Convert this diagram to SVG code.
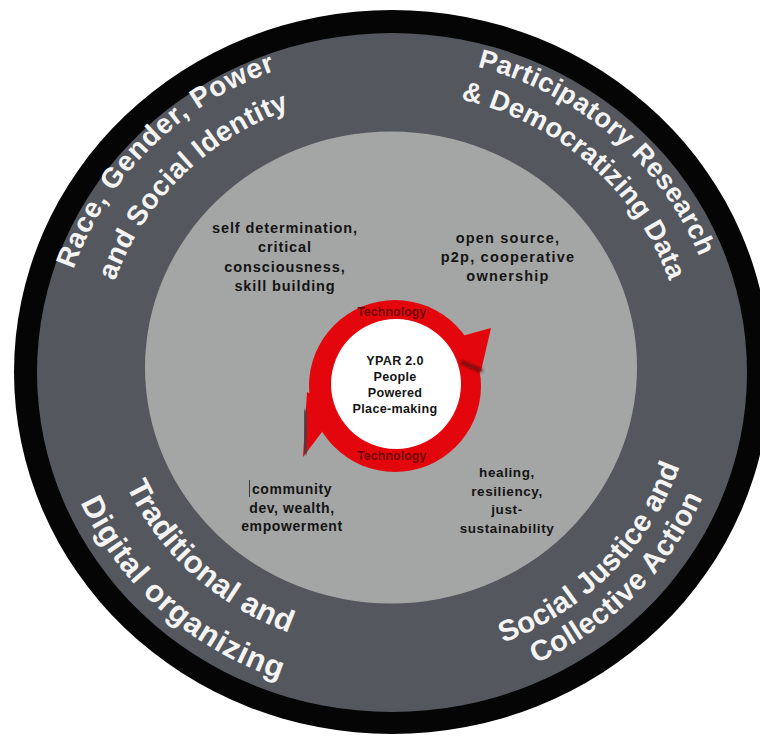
<svg xmlns="http://www.w3.org/2000/svg" width="760" height="736" viewBox="0 0 760 736">
  <defs>
    <style>
      .ring-label { font-family: "Liberation Sans", Arial, sans-serif; font-weight: bold; fill: #f4f4f4; }
      .theme { font-family: "Liberation Sans", Arial, sans-serif; font-weight: bold; fill: #141414; text-anchor: middle; }
      .core { font-family: "Liberation Sans", Arial, sans-serif; font-weight: bold; fill: #151515; text-anchor: middle; font-size: 12.6px; letter-spacing: 0.3px; }
      .tech { font-family: "Liberation Sans", Arial, sans-serif; font-weight: bold; fill: #6a0507; text-anchor: middle; font-size: 12.5px; }
    </style>
    <filter id="soft" x="-20%" y="-50%" width="140%" height="200%">
      <feGaussianBlur stdDeviation="0.7"/>
    </filter>
    <filter id="shade" x="-100%" y="-50%" width="300%" height="200%">
      <feGaussianBlur stdDeviation="1.6"/>
    </filter>
    <!-- elliptical baselines for the ring labels (centre 392,372; ry = 0.957 rx) -->
    <path id="arcUL1" d="M69.8,463.3 A336,321.6 0 0 1 470.4,59.3"/>
    <path id="arcUL2" d="M111.1,451.6 A293,280.4 0 0 1 460.4,99.3"/>
    <path id="arcUR1" d="M292.8,70.8 A330,315.8 0 0 1 714.2,440.3"/>
    <path id="arcUR2" d="M306.3,103.9 A293,280.4 0 0 1 677.5,435.1"/>
    <path id="arcLL1" d="M109.6,304.6 A291,278.5 0 0 0 472.2,639.7"/>
    <path id="arcLL2" d="M61.4,296.1 A340,325.4 0 0 0 488.6,684.0"/>
    <path id="arcLR1" d="M323.6,655.5 A304,290.9 0 0 0 682.7,286.9"/>
    <path id="arcLR2" d="M316.2,686.2 A337,322.5 0 0 0 714.3,277.7"/>
  </defs>

  <rect width="760" height="736" fill="#ffffff"/>

  <!-- concentric bands -->
  <g id="outer-ring">
    <ellipse cx="392" cy="372" rx="378" ry="362" fill="#050505"/>
    <ellipse cx="392" cy="372.5" rx="355" ry="339.5" fill="#54585e"/>
  </g>
  <g id="inner-field">
    <ellipse cx="391" cy="367.5" rx="246" ry="236" fill="#a4a6a5"/>
  </g>

  <!-- ring labels -->
  <g id="label-race">
    <text class="ring-label" font-size="28" letter-spacing="0.8"><textPath href="#arcUL1" startOffset="50%" text-anchor="middle">Race, Gender, Power</textPath></text>
    <text class="ring-label" font-size="28" letter-spacing="0.3"><textPath href="#arcUL2" startOffset="50%" text-anchor="middle">and Social Identity</textPath></text>
  </g>
  <g id="label-participatory">
    <text class="ring-label" font-size="27" letter-spacing="0.4"><textPath href="#arcUR1" startOffset="50%" text-anchor="middle">Participatory Research</textPath></text>
    <text class="ring-label" font-size="27.5" letter-spacing="0.2"><textPath href="#arcUR2" startOffset="50%" text-anchor="middle">&amp; Democratizing Data</textPath></text>
  </g>
  <g id="label-organizing">
    <text class="ring-label" font-size="31" letter-spacing="0.3"><textPath href="#arcLL1" startOffset="50%" text-anchor="middle">Traditional and</textPath></text>
    <text class="ring-label" font-size="31" letter-spacing="0.8"><textPath href="#arcLL2" startOffset="50%" text-anchor="middle">Digital organizing</textPath></text>
  </g>
  <g id="label-justice">
    <text class="ring-label" font-size="29.5"><textPath href="#arcLR1" startOffset="50%" text-anchor="middle">Social Justice and</textPath></text>
    <text class="ring-label" font-size="29" letter-spacing="0.4"><textPath href="#arcLR2" startOffset="50%" text-anchor="middle">Collective Action</textPath></text>
  </g>

  <!-- themes in the inner field -->
  <g id="theme-self">
    <text class="theme" font-size="14.5" letter-spacing="0.9" x="285" y="233">self determination,</text>
    <text class="theme" font-size="14.5" letter-spacing="0.9" x="285" y="252">critical</text>
    <text class="theme" font-size="14.5" letter-spacing="0.9" x="285" y="271.5">consciousness,</text>
    <text class="theme" font-size="14.5" letter-spacing="0.9" x="285" y="290.5">skill building</text>
  </g>
  <g id="theme-open">
    <text class="theme" font-size="14.5" letter-spacing="1.2" x="508" y="242.5">open source,</text>
    <text class="theme" font-size="14.5" letter-spacing="1.2" x="508" y="262">p2p, cooperative</text>
    <text class="theme" font-size="14.5" letter-spacing="1.2" x="508" y="281">ownership</text>
  </g>
  <g id="theme-community">
    <line x1="249.5" y1="480" x2="249.5" y2="497" stroke="#3a3a3a" stroke-width="1"/>
    <text class="theme" font-size="14" letter-spacing="0.6" x="292" y="493.5">community</text>
    <text class="theme" font-size="14" letter-spacing="0.6" x="292" y="512.5">dev, wealth,</text>
    <text class="theme" font-size="14" letter-spacing="0.6" x="292" y="530.5">empowerment</text>
  </g>
  <g id="theme-healing">
    <text class="theme" font-size="13.5" letter-spacing="0.6" x="507" y="477">healing,</text>
    <text class="theme" font-size="13.5" letter-spacing="0.6" x="507" y="495.5">resiliency,</text>
    <text class="theme" font-size="13.5" letter-spacing="0.6" x="507" y="514">just-</text>
    <text class="theme" font-size="13.5" letter-spacing="0.6" x="507" y="532.5">sustainability</text>
  </g>

  <!-- technology cycle: two curved arrows round the core -->
  <g id="cycle">
    <circle cx="395" cy="386" r="86" fill="#e3070d"/>
    <polygon points="462,336 491,328 481,371 470,371" fill="#e3070d"/>
    <polygon points="322,432 303,457 307,392 318,398" fill="#e3070d"/>
    <line x1="482" y1="371" x2="461" y2="362" stroke="#6e0a0a" stroke-width="4" filter="url(#shade)"/>
    <line x1="305" y1="410" x2="306" y2="454" stroke="#4c3c3c" stroke-width="5" filter="url(#shade)"/>
    <text class="tech" x="392" y="316" filter="url(#soft)">Technology</text>
    <text class="tech" x="392" y="460" filter="url(#soft)">Technology</text>
  </g>

  <g id="core">
    <circle cx="396" cy="384" r="65" fill="#ffffff"/>
    <text class="core" x="395" y="365">YPAR 2.0</text>
    <text class="core" x="395" y="381">People</text>
    <text class="core" x="395" y="397">Powered</text>
    <text class="core" x="395" y="413">Place-making</text>
  </g>
</svg>
